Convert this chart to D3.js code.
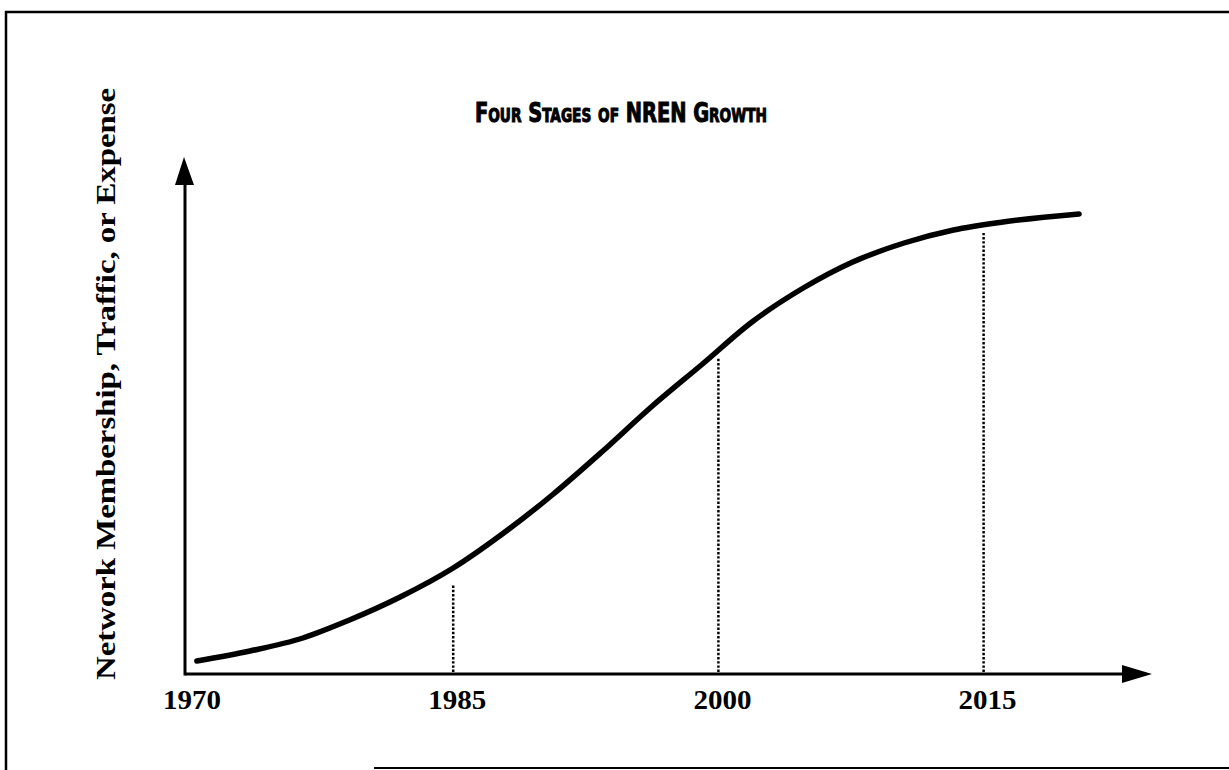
<!DOCTYPE html>
<html>
<head>
<meta charset="utf-8">
<script src="https://cdn.jsdelivr.net/npm/d3@7"></script>
<style>
  html, body { margin: 0; padding: 0; background: #fff; }
  svg { display: block; }
</style>
</head>
<body>
<svg id="chart"></svg>
<script>
// growth curve (year, relative level 0-100)
const years  = [1970.5, 1973.5, 1976.5, 1979, 1982, 1985, 1987.7, 1990.6, 1993.4, 1996.2, 1999.1, 2001.9, 2004.8, 2007.6, 2010.5, 2013.3, 2016.1, 2020.4];
const levels = [2.6, 4.6, 7.2, 10.6, 15.4, 21.2, 27.8, 35.8, 44.4, 53.4, 62, 70.4, 77.2, 82.4, 86.2, 88.8, 90.4, 92];

// stage boundaries, dotted drop lines
const stageYears = [1985, 2000, 2015];
const stageTops  = [18, 63.4, 88.2];

const tickYears = [1970, 1985, 2000, 2015];
const title = 'Four Stages of NREN Growth';
const yLabel = 'Network Membership, Traffic, or Expense';

const W = 1229, H = 770;
const svg = d3.select('#chart').attr('width', W).attr('height', H);

const x = d3.scaleLinear().domain([1970, 2020]).range([188, 1072]);
const y = d3.scaleLinear().domain([0, 100]).range([674, 174]);

// page frame (scan edge)
svg.append('path')
  .attr('d', `M6,${H} L6,12 L${W},12`)
  .attr('fill', 'none').attr('stroke', '#000').attr('stroke-width', 2.5);
svg.append('line')
  .attr('x1', 374).attr('x2', W).attr('y1', 768).attr('y2', 768)
  .attr('stroke', '#000').attr('stroke-width', 2);

// axes with arrow heads
const x0 = 185, y0 = y(0);
svg.append('line').attr('x1', x0).attr('x2', 1130).attr('y1', y0).attr('y2', y0)
  .attr('stroke', '#000').attr('stroke-width', 3);
svg.append('line').attr('x1', x0).attr('x2', x0).attr('y1', y0 + 1.5).attr('y2', 180)
  .attr('stroke', '#000').attr('stroke-width', 3);
svg.append('path')
  .attr('d', `M1122,${y0 - 9} L1152,${y0} L1122,${y0 + 9} Z`)
  .attr('fill', '#000');
svg.append('path')
  .attr('d', `M${x0 - 10},185 L${x0 - 1},157 L${x0 + 9},185 Z`)
  .attr('fill', '#000');

// dotted stage lines
svg.selectAll('line.stage')
  .data(stageYears.map((yr, i) => ({ yr, top: stageTops[i] })))
  .join('line')
  .attr('class', 'stage')
  .attr('x1', d => x(d.yr)).attr('x2', d => x(d.yr))
  .attr('y1', y0 - 2).attr('y2', d => y(d.top))
  .attr('stroke', '#000').attr('stroke-width', 2.5)
  .attr('stroke-dasharray', '2.4,1.8');

// growth curve
const pts = years.map((yr, i) => [yr, levels[i]]);
svg.append('path')
  .datum(pts)
  .attr('d', d3.line().x(d => x(d[0])).y(d => y(d[1])).curve(d3.curveMonotoneX))
  .attr('fill', 'none').attr('stroke', '#000').attr('stroke-width', 5.5)
  .attr('stroke-linecap', 'round');

// year labels
svg.selectAll('text.tick')
  .data(tickYears)
  .join('text')
  .attr('class', 'tick')
  .attr('x', d => x(d) + 4)
  .attr('y', 709)
  .attr('text-anchor', 'middle')
  .attr('font-family', '"Liberation Serif", serif')
  .attr('font-weight', 'bold')
  .attr('font-size', 28)
  .attr('textLength', 58).attr('lengthAdjust', 'spacingAndGlyphs')
  .text(d => d);

// title
svg.append('text')
  .attr('x', 475).attr('y', 122)
  .attr('textLength', 292).attr('lengthAdjust', 'spacingAndGlyphs')
  .attr('font-family', '"DejaVu Sans Condensed", "DejaVu Sans", sans-serif')
  .attr('font-weight', 'bold')
  .attr('font-size', 27)
  .attr('stroke', '#000').attr('stroke-width', 1)
  .style('font-variant', 'small-caps')
  .text(title);

// y axis label
svg.append('text')
  .attr('transform', 'translate(115,384) rotate(-90)')
  .attr('text-anchor', 'middle')
  .attr('font-family', '"Liberation Serif", serif')
  .attr('font-weight', 'bold')
  .attr('font-size', 27)
  .attr('textLength', 592).attr('lengthAdjust', 'spacingAndGlyphs')
  .text(yLabel);
</script>
</body>
</html>
